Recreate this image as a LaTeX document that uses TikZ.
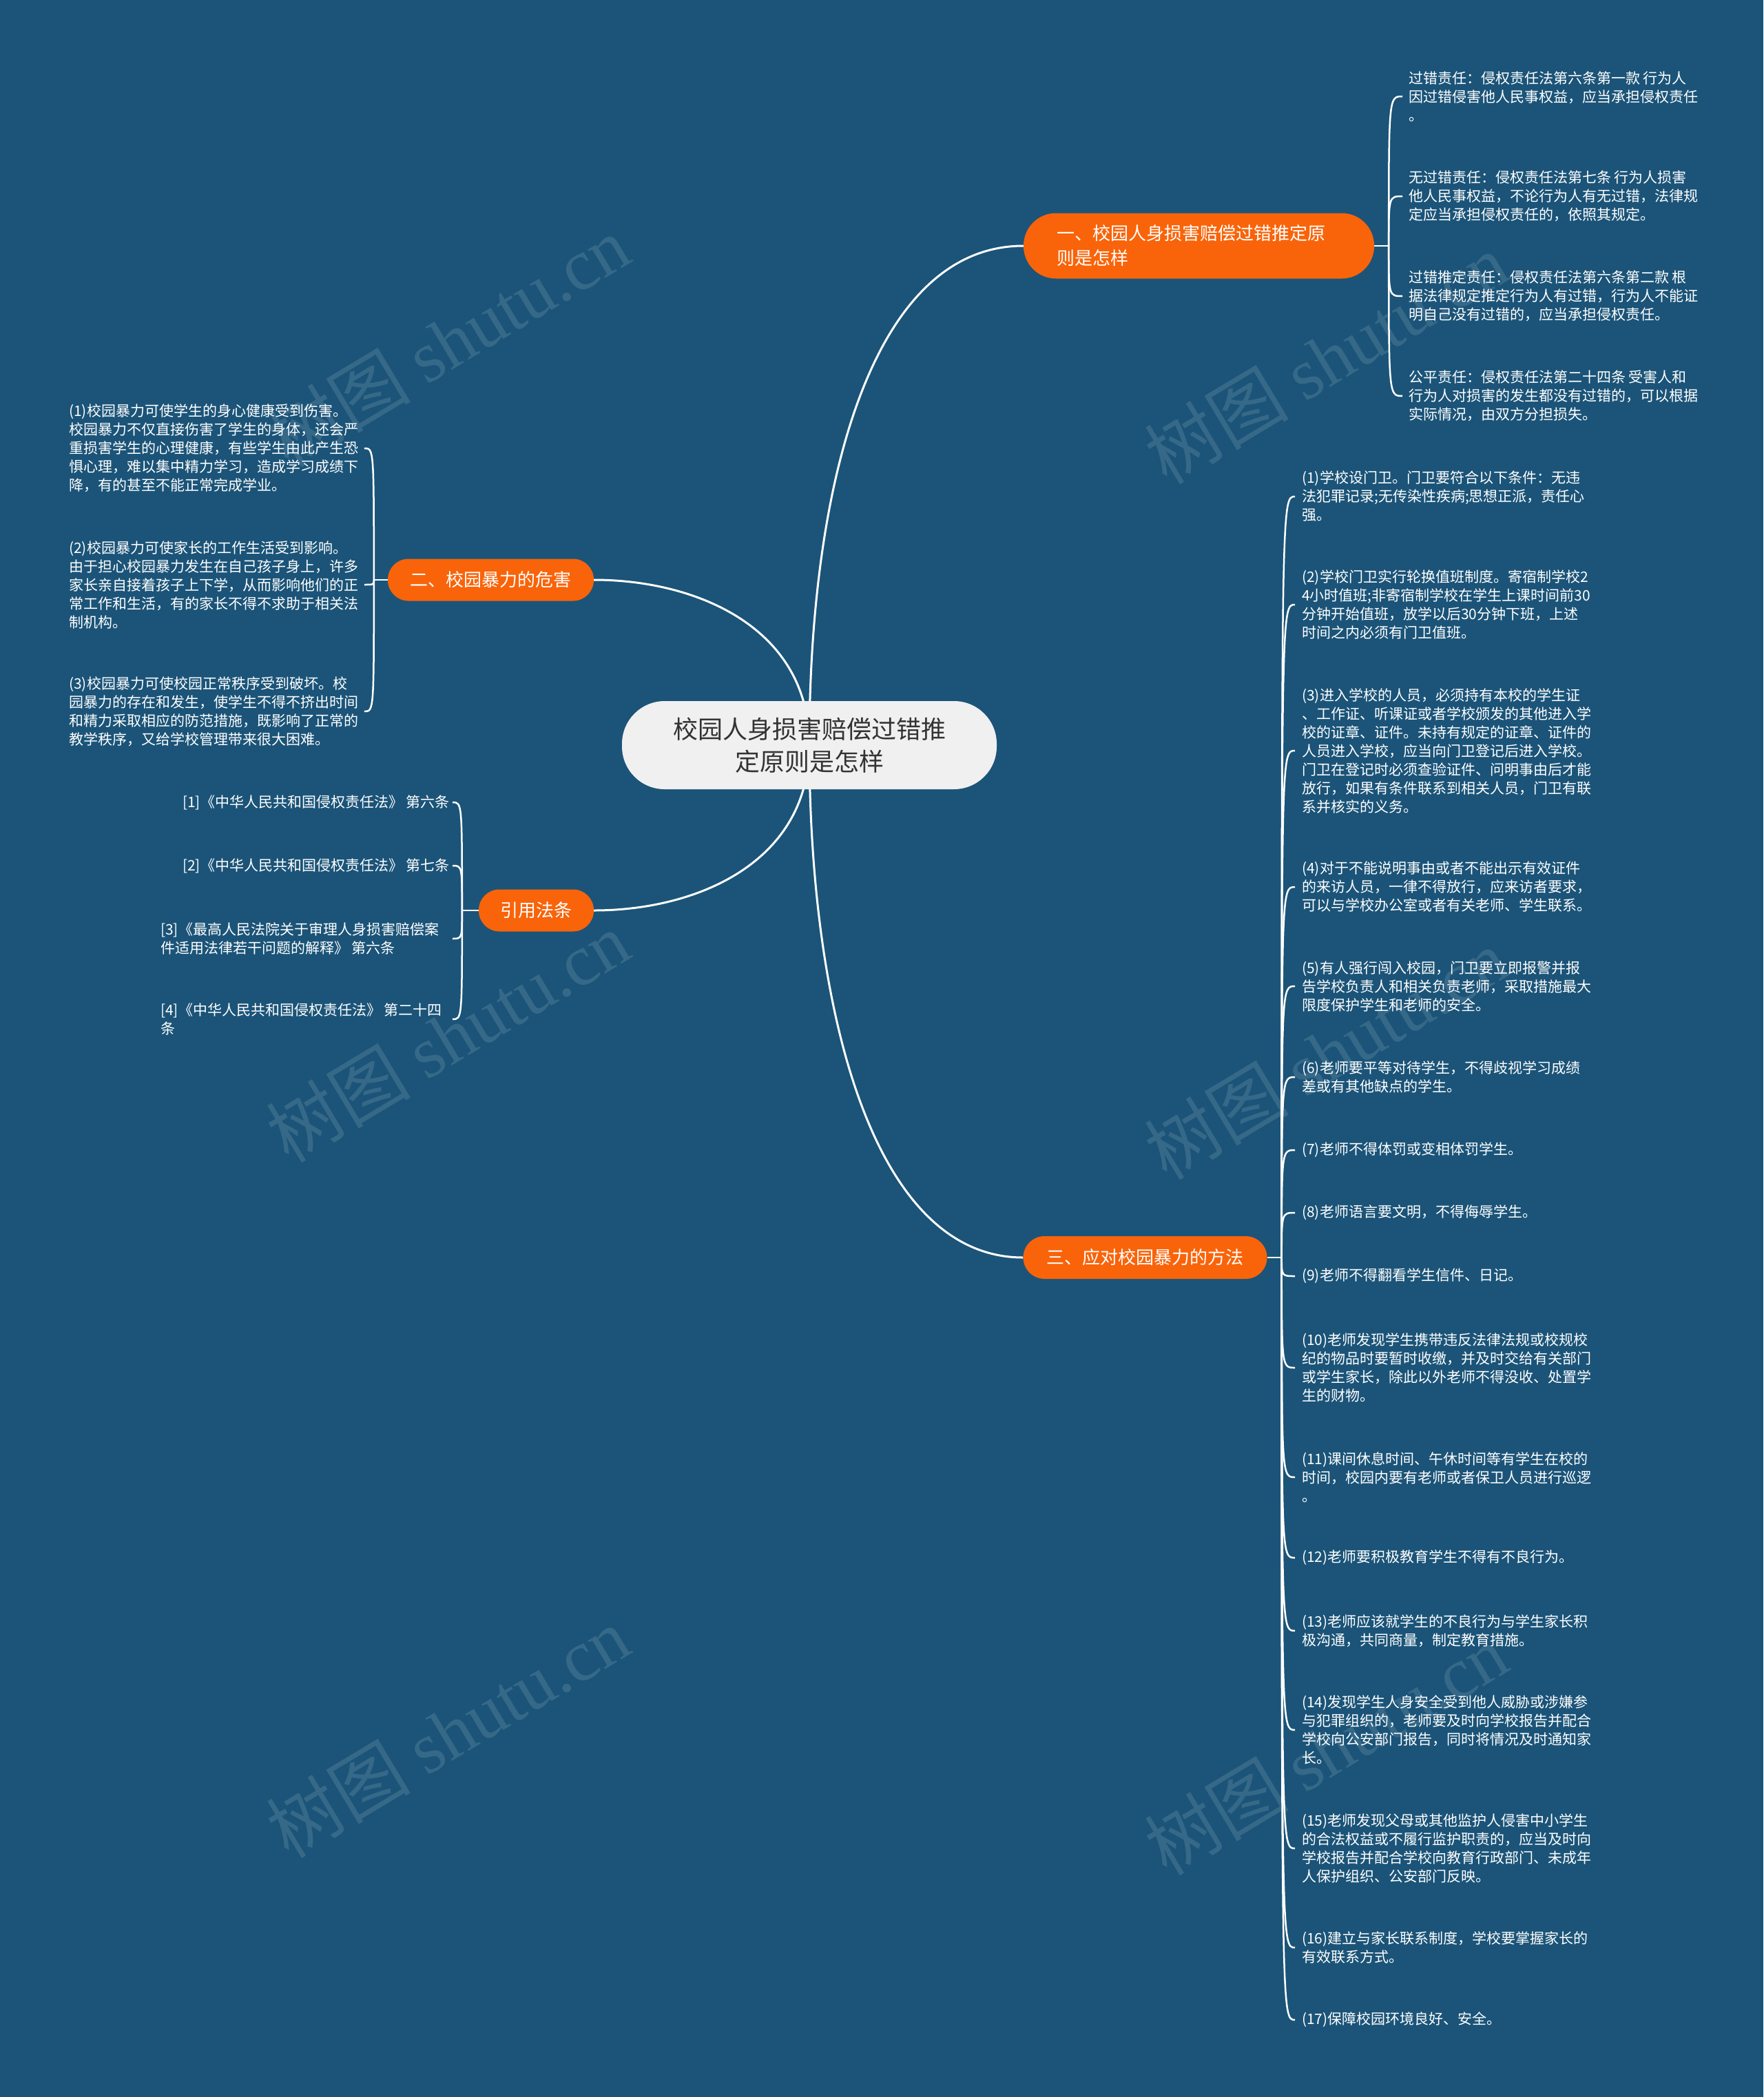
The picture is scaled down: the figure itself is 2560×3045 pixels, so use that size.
\documentclass[tikz,border=0pt]{standalone}
\usepackage{fontspec}
\setmainfont{Noto Sans CJK SC}
\newfontfamily\wmfont{Liberation Serif}
\usetikzlibrary{calc}
\definecolor{bgblue}{RGB}{27,84,120}
\definecolor{orangeb}{RGB}{249,100,10}
\definecolor{centerfill}{RGB}{240,240,240}
\definecolor{centertext}{RGB}{51,51,51}
\pgfdeclarelayer{back}
\pgfdeclarelayer{lines}
\pgfsetlayers{back,lines,main}
\tikzset{
  leaf/.style={text=white, font=\fontsize{21}{27}\selectfont, align=left, inner sep=0pt, anchor=west},
  branch/.style={fill=orangeb, text=white, font=\fontsize{26}{36}\selectfont, inner sep=0pt, align=left},
  centerbox/.style={fill=centerfill, text=centertext, font=\fontsize{36}{47}\selectfont, align=center,
    minimum width=544pt, minimum height=128pt, rounded corners=62pt, inner sep=0pt},
  mainline/.style={draw=white, line width=3pt},
  leafline/.style={draw=white, line width=2.5pt},
  wm/.style={text=white, opacity=0.12, font=\fontsize{105}{110}\selectfont, rotate=31, inner sep=0pt}
}
\begin{document}
\begin{tikzpicture}[x=1pt,y=-1pt]
\useasboundingbox (0,0) rectangle (2560,3045);
\begin{pgfonlayer}{back}
\fill[bgblue] (0,0) rectangle (2560,3045);
\end{pgfonlayer}

% watermarks
\node[wm] (w1) at (650,495) {树图 {\wmfont shutu.cn}};
\node[wm] (w2) at (650,1505) {树图 {\wmfont shutu.cn}};
\node[wm] (w3) at (650,2515) {树图 {\wmfont shutu.cn}};
\node[wm] (w4) at (1925,520) {树图 {\wmfont shutu.cn}};
\node[wm] (w5) at (1925,1530) {树图 {\wmfont shutu.cn}};
\node[wm] (w6) at (1925,2540) {树图 {\wmfont shutu.cn}};

% center
\node[centerbox] (c) at (1175,1082) {校园人身损害赔偿过错推\\定原则是怎样};

% branches
\node[branch, minimum width=509pt, minimum height=95pt, rounded corners=47pt, text width=413pt] (b1) at (1740.5,357) {一、校园人身损害赔偿过错推定原\\则是怎样};
\node[branch, minimum width=299pt, minimum height=61pt, rounded corners=30pt] (b2) at (712.5,842) {二、校园暴力的危害};
\node[branch, minimum width=354pt, minimum height=62pt, rounded corners=31pt] (b3) at (1662.5,1826) {三、应对校园暴力的方法};
\node[branch, minimum width=167pt, minimum height=61pt, rounded corners=30pt] (b4) at (778.5,1322) {引用法条};

% leaves of branch 1
\node[leaf] (a1) at (2045,140) {过错责任：侵权责任法第六条第一款 行为人\\因过错侵害他人民事权益，应当承担侵权责任\\。};
\node[leaf] (a2) at (2045,285) {无过错责任：侵权责任法第七条 行为人损害\\他人民事权益，不论行为人有无过错，法律规\\定应当承担侵权责任的，依照其规定。};
\node[leaf] (a3) at (2045,430) {过错推定责任：侵权责任法第六条第二款 根\\据法律规定推定行为人有过错，行为人不能证\\明自己没有过错的，应当承担侵权责任。};
\node[leaf] (a4) at (2045,575) {公平责任：侵权责任法第二十四条 受害人和\\行为人对损害的发生都没有过错的，可以根据\\实际情况，由双方分担损失。};

% leaves of branch 2
\node[leaf] (h1) at (100,651) {(1)校园暴力可使学生的身心健康受到伤害。\\校园暴力不仅直接伤害了学生的身体，还会严\\重损害学生的心理健康，有些学生由此产生恐\\惧心理，难以集中精力学习，造成学习成绩下\\降，有的甚至不能正常完成学业。};
\node[leaf] (h2) at (100,849) {(2)校园暴力可使家长的工作生活受到影响。\\由于担心校园暴力发生在自己孩子身上，许多\\家长亲自接着孩子上下学，从而影响他们的正\\常工作和生活，有的家长不得不求助于相关法\\制机构。};
\node[leaf] (h3) at (100,1033) {(3)校园暴力可使校园正常秩序受到破坏。校\\园暴力的存在和发生，使学生不得不挤出时间\\和精力采取相应的防范措施，既影响了正常的\\教学秩序，又给学校管理带来很大困难。};

% leaves of references
\node[leaf] (r1) at (265,1165) {[1]《中华人民共和国侵权责任法》 第六条};
\node[leaf] (r2) at (265,1257) {[2]《中华人民共和国侵权责任法》 第七条};
\node[leaf] (r3) at (233,1363) {[3]《最高人民法院关于审理人身损害赔偿案\\件适用法律若干问题的解释》 第六条};
\node[leaf] (r4) at (233,1480) {[4]《中华人民共和国侵权责任法》 第二十四\\条};

% leaves of branch 3
\node[leaf] (t1) at (1890,721) {(1)学校设门卫。门卫要符合以下条件：无违\\法犯罪记录;无传染性疾病;思想正派，责任心\\强。};
\node[leaf] (t2) at (1890,878) {(2)学校门卫实行轮换值班制度。寄宿制学校2\\4小时值班;非寄宿制学校在学生上课时间前30\\分钟开始值班，放学以后30分钟下班，上述\\时间之内必须有门卫值班。};
\node[leaf] (t3) at (1890,1090) {(3)进入学校的人员，必须持有本校的学生证\\、工作证、听课证或者学校颁发的其他进入学\\校的证章、证件。未持有规定的证章、证件的\\人员进入学校，应当向门卫登记后进入学校。\\门卫在登记时必须查验证件、问明事由后才能\\放行，如果有条件联系到相关人员，门卫有联\\系并核实的义务。};
\node[leaf] (t4) at (1890,1288) {(4)对于不能说明事由或者不能出示有效证件\\的来访人员，一律不得放行，应来访者要求，\\可以与学校办公室或者有关老师、学生联系。};
\node[leaf] (t5) at (1890,1432) {(5)有人强行闯入校园，门卫要立即报警并报\\告学校负责人和相关负责老师，采取措施最大\\限度保护学生和老师的安全。};
\node[leaf] (t6) at (1890,1564) {(6)老师要平等对待学生，不得歧视学习成绩\\差或有其他缺点的学生。};
\node[leaf] (t7) at (1890,1670) {(7)老师不得体罚或变相体罚学生。};
\node[leaf] (t8) at (1890,1761) {(8)老师语言要文明，不得侮辱学生。};
\node[leaf] (t9) at (1890,1853) {(9)老师不得翻看学生信件、日记。};
\node[leaf] (t10) at (1890,1986) {(10)老师发现学生携带违反法律法规或校规校\\纪的物品时要暂时收缴，并及时交给有关部门\\或学生家长，除此以外老师不得没收、处置学\\生的财物。};
\node[leaf] (t11) at (1890,2145) {(11)课间休息时间、午休时间等有学生在校的\\时间，校园内要有老师或者保卫人员进行巡逻\\。};
\node[leaf] (t12) at (1890,2262) {(12)老师要积极教育学生不得有不良行为。};
\node[leaf] (t13) at (1890,2368) {(13)老师应该就学生的不良行为与学生家长积\\极沟通，共同商量，制定教育措施。};
\node[leaf] (t14) at (1890,2512) {(14)发现学生人身安全受到他人威胁或涉嫌参\\与犯罪组织的，老师要及时向学校报告并配合\\学校向公安部门报告，同时将情况及时通知家\\长。};
\node[leaf] (t15) at (1890,2684) {(15)老师发现父母或其他监护人侵害中小学生\\的合法权益或不履行监护职责的，应当及时向\\学校报告并配合学校向教育行政部门、未成年\\人保护组织、公安部门反映。};
\node[leaf] (t16) at (1890,2828) {(16)建立与家长联系制度，学校要掌握家长的\\有效联系方式。};
\node[leaf] (t17) at (1890,2933) {(17)保障校园环境良好、安全。};

% junctions and hook ends
\coordinate (j1) at ([xshift=21pt]b1.east);
\coordinate (e1) at (2036,0);
\coordinate (j2) at ([xshift=-20pt]b2.west);
\coordinate (e2) at (529,0);
\coordinate (j3) at ([xshift=21pt]b3.east);
\coordinate (e3) at (1880,0);
\coordinate (j4) at ([xshift=-24pt]b4.west);
\coordinate (e4) at (657,0);

\begin{pgfonlayer}{lines}
\draw[mainline] (c.center) .. controls +(0,-380) and +(-220,0) .. (b1.west);
\draw[mainline] (c.center) .. controls +(0,-170) and +(150,0) .. (b2.east);
\draw[mainline] (c.center) .. controls +(0,380) and +(-220,0) .. (b3.west);
\draw[mainline] (c.center) .. controls +(0,170) and +(150,0) .. (b4.east);

\draw[leafline] (b1.east) -- (j1);
\draw[leafline] (b2.west) -- (j2);
\draw[leafline] (b3.east) -- (j3);
\draw[leafline] (b4.west) -- (j4);

\foreach \n in {a1,a2,a3,a4}
  \draw[leafline] (j1) .. controls (j1 |- \n) .. (e1 |- \n);
\foreach \n in {h1,h2,h3}
  \draw[leafline] (j2) .. controls (j2 |- \n) .. (e2 |- \n);
\foreach \n in {t1,t2,t3,t4,t5,t6,t7,t8,t9,t10,t11,t12,t13,t14,t15,t16,t17}
  \draw[leafline] (j3) .. controls (j3 |- \n) .. (e3 |- \n);
\foreach \n in {r1,r2,r3,r4}
  \draw[leafline] (j4) .. controls (j4 |- \n) .. (e4 |- \n);
\end{pgfonlayer}
\end{tikzpicture}
\end{document}
